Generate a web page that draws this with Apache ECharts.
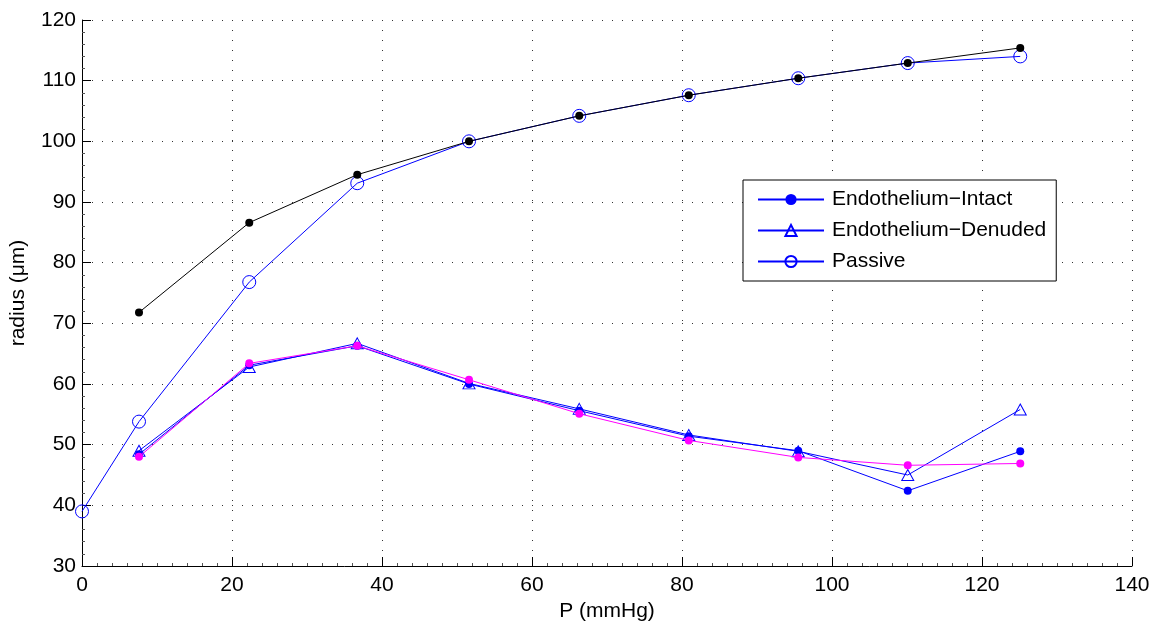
<!DOCTYPE html>
<html>
<head>
<meta charset="utf-8">
<script src="https://cdn.jsdelivr.net/npm/echarts@6/dist/echarts.min.js"></script>
<style>html,body{margin:0;padding:0;background:#fff}#c{width:1154px;height:624px}</style>
</head>
<body>
<div id="c"></div>
<script>
// Pressure values (mmHg)
const pressures = [7.6, 22.3, 36.7, 51.6, 66.3, 80.9, 95.5, 110.1, 125.1];
const passivePressures = [0, 7.6, 22.3, 36.7, 51.6, 66.3, 80.9, 95.5, 110.1, 125.1];
// Radius values (um)
const blackRadius   = [71.8, 86.6, 94.5, 100.0, 104.2, 107.6, 110.4, 112.9, 115.4];
const passiveRadius = [39.0, 53.8, 76.8, 93.1, 100.0, 104.2, 107.6, 110.4, 112.9, 114.0];
const intactRadius  = [48.4, 63.1, 66.3, 60.0, 55.6, 51.4, 49.0, 42.4, 48.9];
const denudedRadius = [49.0, 62.8, 66.7, 60.1, 55.9, 51.6, 48.9, 45.0, 55.8];
const magentaRadius = [48.0, 63.4, 66.3, 60.7, 55.1, 50.7, 47.9, 46.6, 46.9];
const legendNames = ['Endothelium−Intact', 'Endothelium−Denuded', 'Passive'];
const xLabelName = 'P (mmHg)';
const yLabelName = 'radius (μm)';

function pairs(xs, ys) { return xs.map((x, i) => [x, ys[i]]); }

const FONT = '"Liberation Sans", Arial, Helvetica, sans-serif';
const BLUE = '#0000ff';

const chart = echarts.init(document.getElementById('c'), null, {renderer: 'canvas'});
const axisCommon = {
  axisLine: {show: true, onZero: false, lineStyle: {color: '#000', width: 1}},
  axisTick: {show: true, inside: true, length: 9, lineStyle: {color: '#000', width: 1}},
  minorTick: {show: true, length: 3, lineStyle: {color: '#555', width: 1}},
  splitLine: {show: true, lineStyle: {color: '#333', width: 1, type: [1, 9]}},
  axisLabel: {color: '#000', fontSize: 21, fontFamily: FONT},
  nameTextStyle: {color: '#000', fontSize: 21, fontFamily: FONT},
  nameLocation: 'middle'
};
chart.setOption({
  animation: false,
  backgroundColor: '#fff',
  grid: {left: 82, right: 22, top: 20, bottom: 58, containLabel: false, outerBoundsMode: 'none'},
  xAxis: Object.assign({}, axisCommon, {
    type: 'value', min: 0, max: 140, interval: 20,
    name: xLabelName, nameGap: 31,
    minorTick: Object.assign({}, axisCommon.minorTick, {splitNumber: 10}),
    axisLabel: Object.assign({}, axisCommon.axisLabel, {margin: 9})
  }),
  yAxis: Object.assign({}, axisCommon, {
    type: 'value', min: 30, max: 120, interval: 10,
    name: yLabelName, nameGap: 53,
    minorTick: Object.assign({}, axisCommon.minorTick, {splitNumber: 5}),
    axisLabel: Object.assign({}, axisCommon.axisLabel, {margin: 6})
  }),
  legend: {
    data: legendNames,
    orient: 'vertical',
    left: 743, top: 180,
    itemWidth: 66, itemHeight: 14, itemGap: 10,
    padding: [9, 10, 9, 14],
    borderColor: '#000', borderWidth: 1, borderRadius: 0,
    backgroundColor: '#fff',
    textStyle: {color: '#000', fontSize: 21, fontFamily: FONT, padding: [0, 0, 0, 3]},
    selectedMode: false
  },
  series: [
    {
      name: 'Passive', type: 'line', data: pairs(passivePressures, passiveRadius),
      symbol: 'circle', symbolSize: 13, showAllSymbol: true,
      lineStyle: {color: BLUE, width: 1},
      itemStyle: {color: 'rgba(0,0,0,0)', borderColor: BLUE, borderWidth: 1},
      clip: false, z: 2
    },
    {
      name: 'Control', type: 'line', data: pairs(pressures, blackRadius),
      symbol: 'circle', symbolSize: 8,
      lineStyle: {color: '#000', width: 1},
      itemStyle: {color: '#000', borderWidth: 0}, z: 3
    },
    {
      name: 'Endothelium−Intact', type: 'line', data: pairs(pressures, intactRadius),
      symbol: 'circle', symbolSize: 8,
      lineStyle: {color: BLUE, width: 1},
      itemStyle: {color: BLUE, borderWidth: 0}, z: 4
    },
    {
      name: 'Endothelium−Denuded', type: 'line', data: pairs(pressures, denudedRadius),
      symbol: 'triangle', symbolSize: [12, 11],
      lineStyle: {color: BLUE, width: 1},
      itemStyle: {color: 'rgba(0,0,0,0)', borderColor: BLUE, borderWidth: 1}, z: 5
    },
    {
      name: 'Magenta', type: 'line', data: pairs(pressures, magentaRadius),
      symbol: 'circle', symbolSize: 8,
      lineStyle: {color: '#ff00ff', width: 1},
      itemStyle: {color: '#ff00ff', borderWidth: 0}, z: 6
    }
  ]
});
</script>
</body>
</html>
